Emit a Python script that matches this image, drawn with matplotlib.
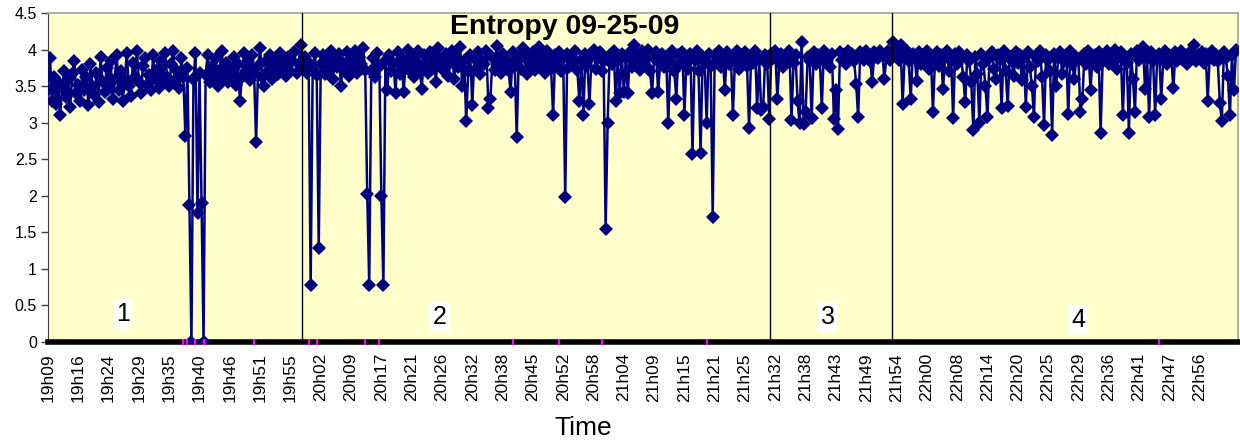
import numpy as np
import matplotlib.pyplot as plt

plt.rcParams['font.family'] = ['Liberation Sans', 'DejaVu Sans']

# entropy samples, one list per session section
region1 = [
    3.45, 3.88, 3.30, 3.62, 3.25, 3.55, 3.10, 3.48, 3.70, 3.35, 3.58, 3.22, 3.66, 3.85, 3.40,
    3.52, 3.30, 3.72, 3.45, 3.62, 3.24, 3.80, 3.50, 3.38, 3.68, 3.28, 3.90, 3.55, 3.42, 3.75,
    3.48, 3.85, 3.32, 3.60, 3.92, 3.45, 3.70, 3.30, 3.58, 3.95, 3.50, 3.36, 3.82, 3.62, 3.98,
    3.55, 3.40, 3.78, 3.88, 3.52, 3.65, 3.45, 3.92, 3.60, 3.72, 3.48, 3.85, 3.58, 3.95, 3.62,
    3.50, 3.80, 3.98, 3.58, 3.70, 3.48, 3.88, 3.62, 2.82, 3.75, 1.88, 0.00, 3.60, 3.95, 1.76,
    3.68, 1.90, 0.00, 3.65, 3.92, 3.55, 3.78, 3.62, 3.88, 3.50, 3.72, 3.98, 3.60, 3.82, 3.55,
    3.75, 3.65, 3.90, 3.52, 3.80, 3.30, 3.62, 3.95, 3.70, 3.85, 3.58, 3.92, 3.68, 2.73, 3.78,
    4.02, 3.62, 3.50, 3.85, 3.70, 3.92, 3.60, 3.78, 3.88, 3.66, 3.95, 3.72, 3.82, 3.64, 3.90,
    3.70, 3.85, 3.96, 3.68, 3.80, 4.06,
]
region2 = [
    3.75, 3.90, 3.68, 3.82, 0.78, 3.72, 3.95, 3.65, 1.28,
    3.80, 3.92, 3.66, 3.85, 3.72, 3.98, 3.60, 3.88, 3.76, 3.94, 3.50, 3.82, 3.70, 3.96, 3.64,
    3.86, 3.74, 3.98, 3.68, 3.90, 3.80, 4.02, 3.72, 2.03, 0.78, 3.70, 3.88, 3.62, 3.95, 3.76,
    2.00, 0.78, 3.85, 3.45, 3.92, 3.70, 3.82, 3.40, 3.96, 3.66, 3.88, 3.42, 3.78, 4.00, 3.70,
    3.90, 3.62, 3.84, 3.98, 3.72, 3.46, 3.92, 3.80, 3.68, 3.96, 3.74, 3.88, 3.55, 4.02, 3.78,
    3.86, 3.70, 3.94, 3.64, 3.82, 3.98, 3.60, 3.90, 3.76, 4.04, 3.50, 3.84, 3.02, 3.70, 3.92,
    3.24, 3.88, 3.74, 3.96, 3.66, 3.85, 3.80, 3.98, 3.20, 3.33, 3.90, 3.72, 4.05, 3.84, 3.68,
    3.94, 3.78, 3.86, 3.70, 3.42, 3.96, 3.82, 2.81, 3.90, 3.74, 4.02, 3.88, 3.66, 3.92, 3.80,
    3.96, 3.72, 3.88, 4.04, 3.76, 3.90, 3.68, 3.98, 3.84, 3.74, 3.10, 3.92, 3.80, 3.96, 3.70,
    3.88, 1.98, 3.94, 3.76, 3.90, 3.82, 3.98, 3.72, 3.30, 3.86, 3.11, 3.94, 3.78, 3.25, 3.90,
    4.00, 3.74, 3.88, 3.96, 3.70, 3.84, 1.55, 3.00, 3.92, 3.80, 3.98, 3.30, 3.86, 3.40, 3.94,
    3.42, 3.88, 3.40, 3.96, 3.76, 4.06, 3.84, 3.92, 3.72, 3.98, 3.86, 3.78, 4.00, 3.70, 3.40,
    3.88, 3.96, 3.42, 3.82, 3.94, 3.76, 3.90, 2.99, 3.84, 3.98, 3.70, 3.33, 3.92, 3.80, 3.96,
    3.10, 3.88, 3.74, 3.94, 2.57, 3.86, 3.98, 3.70, 2.58, 3.90, 3.82, 3.00, 3.94, 3.78, 1.71,
    3.92, 3.84, 3.98, 3.76, 3.88, 3.45, 3.96, 3.80, 3.90, 3.10, 3.86, 3.98, 3.74, 3.92, 3.84,
    3.96, 3.78, 2.93, 3.90, 3.82, 3.98, 3.20, 3.86, 3.18, 3.21, 3.92, 3.80, 3.05,
]
region3 = [
    3.94, 3.88,
    3.98, 3.32, 3.84, 3.94, 3.76, 3.90, 3.86, 3.98, 3.04, 3.82, 3.92, 3.30, 2.99, 4.10, 2.98,
    3.15, 3.90, 3.84, 3.07, 3.96, 3.80, 3.92, 3.88, 3.20, 3.98, 3.84, 3.90, 3.76, 3.94, 3.05,
    3.45, 2.92, 3.96, 3.86, 3.92, 3.80, 3.98, 3.88, 3.94, 3.84, 3.53, 3.08, 3.96, 3.90, 3.86,
    3.98, 3.92, 3.84, 3.55, 3.96, 3.90, 3.88, 3.98, 3.94, 3.60, 3.92, 3.98, 3.86,
]
region4 = [
    4.11, 3.96,
    3.92, 3.86, 4.06, 3.25, 3.90, 3.98, 3.84, 3.32, 3.94, 3.88, 3.57, 3.96, 3.80, 3.92, 3.86,
    3.98, 3.74, 3.90, 3.15, 3.84, 3.96, 3.78, 3.92, 3.46, 3.88, 3.98, 3.70, 3.86, 3.07, 3.94,
    3.80, 3.96, 3.88, 3.62, 3.28, 3.92, 3.84, 3.55, 2.90, 3.90, 3.66, 2.99, 3.94, 3.80, 3.50,
    3.08, 3.88, 3.96, 3.74, 3.60, 3.92, 3.86, 3.20, 3.98, 3.70, 3.23, 3.90, 3.84, 3.64, 3.96,
    3.82, 3.92, 3.58, 3.88, 3.22, 3.96, 3.76, 3.50, 3.08, 3.90, 3.84, 3.98, 3.62, 2.97, 3.92,
    3.86, 3.70, 2.83, 3.94, 3.50, 3.88, 3.96, 3.66, 3.84, 3.92, 3.12, 3.98, 3.80, 3.60, 3.90,
    3.86, 3.15, 3.32, 3.94, 3.80, 3.98, 3.45, 3.88, 3.92, 3.76, 3.96, 2.86, 3.84, 3.90, 3.98,
    3.80, 3.92, 3.86, 4.00, 3.74, 3.90, 3.96, 3.10, 3.88, 3.82, 2.86, 3.94, 3.60, 3.15, 3.98,
    3.86, 3.92, 4.04, 3.46, 3.88, 3.08, 3.96, 3.84, 3.11, 3.90, 3.94, 3.32, 3.86, 3.98, 3.80,
    3.92, 3.88, 3.47, 3.96, 3.84, 3.90, 3.98, 3.86, 3.92, 3.80, 3.96, 3.88, 4.06, 3.84, 3.92,
    3.88, 3.96, 3.82, 3.94, 3.30, 3.90, 3.98, 3.86, 3.92, 3.84, 3.27, 3.02, 3.96, 3.88, 3.64,
    3.10, 3.92, 3.45, 4.00,
]

time_labels = [
    "19h09", "19h16", "19h24", "19h29", "19h35", "19h40", "19h46", "19h51", "19h55",
    "20h02", "20h09", "20h17", "20h21", "20h26", "20h32", "20h38", "20h45", "20h52",
    "20h58", "21h04", "21h09", "21h15", "21h21", "21h25", "21h32", "21h38", "21h43",
    "21h49", "21h54", "22h00", "22h08", "22h14", "22h20", "22h25", "22h29", "22h36",
    "22h41", "22h47", "22h56",
]
label_step = 15

# small event markers sitting on the time axis
event_idx = [67, 69, 73, 77, 102, 129, 133, 157, 164, 230, 253, 274, 326, 550]

sections = [region1, region2, region3, region4]
entropy = np.concatenate(sections)
idx = np.arange(len(entropy))
bounds = np.cumsum([len(s) for s in sections])[:-1]

fig = plt.figure(figsize=(12.4, 4.41), dpi=100)
ax = fig.add_axes([48 / 1240, 1 - 342 / 441, 1190 / 1240, 329 / 441])
ax.set_facecolor('#FFFFCC')

ax.plot(idx, entropy, color='#000080', linewidth=1.8, marker='D',
        markersize=7.5, markeredgewidth=0, zorder=3)

for b in bounds:
    ax.axvline(b - 0.5, color='black', linewidth=1.0, zorder=4)

ax.plot(event_idx, np.zeros(len(event_idx)), linestyle='none', marker='|',
        markersize=4, markeredgewidth=1.5, color='#FF00FF', clip_on=False, zorder=6)

ax.set_xlim(0, len(entropy))
ax.set_ylim(0, 4.5)

ax.set_yticks(np.arange(0, 4.51, 0.5))
ax.set_yticklabels([f"{v:g}" for v in np.arange(0, 4.51, 0.5)], fontsize=11.5)
ax.tick_params(axis='y', direction='out', length=5, width=1, color='#404040', pad=3)

ax.set_xticks(np.arange(len(time_labels)) * label_step)
ax.set_xticklabels(time_labels, rotation=90, fontsize=12.5)
ax.tick_params(axis='x', length=0, pad=8)

for side in ['top', 'right']:
    ax.spines[side].set_color('#A0A0A0')
    ax.spines[side].set_linewidth(1.2)
ax.spines['left'].set_color('#404040')
ax.spines['bottom'].set_color('black')
ax.spines['bottom'].set_linewidth(4)

ax.text(0.4345, 0.998, "Entropy 09-25-09", transform=ax.transAxes, ha='center',
        va='top', fontsize=20.5, fontweight='bold', zorder=5)

region_labels = ["1", "2", "3", "4"]
region_pos = [(37, 0.38), (194, 0.34), (386, 0.34), (510, 0.30)]
for txt, (px, py) in zip(region_labels, region_pos):
    ax.text(px, py, txt, ha='center', va='center', fontsize=18, zorder=5,
            bbox=dict(facecolor='white', edgecolor='none', pad=2))

fig.text(583 / 1240, 1 - 428 / 441, "Time", ha='center', va='center', fontsize=19)

fig.savefig('out.png', dpi=100)
